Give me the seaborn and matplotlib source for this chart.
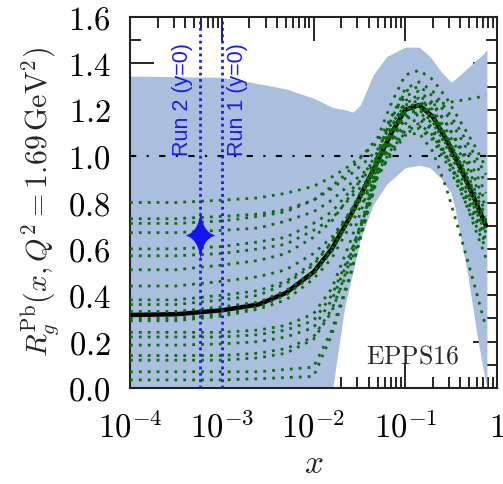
import numpy as np
import pandas as pd
import seaborn as sns
import matplotlib.pyplot as plt
from matplotlib.path import Path
from matplotlib.ticker import MultipleLocator, LogLocator, FuncFormatter, NullFormatter

# log10(x) grid shared by the error-set curves
logx = [-4, -3.5, -3, -2.6, -2.3, -2.0, -1.8, -1.6, -1.45, -1.3,
        -1.15, -1.0, -0.85, -0.7, -0.55, -0.4, -0.25, -0.12]

central = [0.315, 0.318, 0.335, 0.36, 0.41, 0.50, 0.60, 0.74, 0.86, 0.98,
           1.10, 1.20, 1.22, 1.17, 1.07, 0.95, 0.82, 0.70]

# error sets
set01 = [0.80, 0.80, 0.81, 0.82, 0.84, 0.87, 0.91, 0.96, 1.01, 1.06, 1.17, 1.26, 1.28, 1.23, 1.14, 1.03, 0.91, 0.80]
set02 = [0.73, 0.73, 0.74, 0.75, 0.77, 0.81, 0.86, 0.92, 0.97, 1.03, 1.14, 1.22, 1.24, 1.19, 1.09, 0.97, 0.84, 0.72]
set03 = [0.71, 0.71, 0.72, 0.74, 0.76, 0.81, 0.87, 0.94, 1.01, 1.08, 1.23, 1.35, 1.37, 1.33, 1.25, 1.15, 1.05, 0.95]
set04 = [0.67, 0.67, 0.68, 0.69, 0.72, 0.76, 0.81, 0.88, 0.93, 1.00, 1.10, 1.18, 1.20, 1.15, 1.04, 0.92, 0.78, 0.66]
set05 = [0.60, 0.60, 0.61, 0.63, 0.65, 0.71, 0.76, 0.85, 0.91, 0.99, 1.10, 1.20, 1.22, 1.22, 1.23, 1.24, 1.25, 1.26]
set06 = [0.57, 0.57, 0.58, 0.60, 0.62, 0.68, 0.73, 0.82, 0.88, 0.96, 1.06, 1.14, 1.16, 1.11, 1.00, 0.88, 0.74, 0.62]
set07 = [0.51, 0.51, 0.53, 0.55, 0.58, 0.65, 0.72, 0.83, 0.92, 1.02, 1.16, 1.28, 1.30, 1.26, 1.18, 1.08, 0.98, 0.88]
set08 = [0.44, 0.44, 0.46, 0.48, 0.51, 0.58, 0.65, 0.76, 0.85, 0.95, 1.07, 1.16, 1.18, 1.12, 1.00, 0.86, 0.70, 0.56]
set09 = [0.38, 0.38, 0.40, 0.42, 0.46, 0.54, 0.63, 0.76, 0.86, 0.98, 1.10, 1.20, 1.22, 1.17, 1.08, 0.97, 0.85, 0.74]
set10 = [0.36, 0.36, 0.38, 0.40, 0.45, 0.53, 0.63, 0.76, 0.87, 1.00, 1.13, 1.23, 1.25, 1.20, 1.11, 1.01, 0.89, 0.78]
set11 = [0.33, 0.33, 0.35, 0.37, 0.42, 0.50, 0.60, 0.73, 0.84, 0.97, 1.09, 1.18, 1.20, 1.15, 1.05, 0.93, 0.80, 0.68]
set12 = [0.30, 0.30, 0.32, 0.35, 0.40, 0.49, 0.59, 0.73, 0.85, 0.99, 1.11, 1.21, 1.23, 1.18, 1.08, 0.96, 0.84, 0.72]
set13 = [0.29, 0.29, 0.31, 0.34, 0.38, 0.47, 0.56, 0.70, 0.81, 0.94, 1.04, 1.12, 1.14, 1.09, 0.99, 0.88, 0.76, 0.64]
set14 = [0.24, 0.24, 0.24, 0.25, 0.27, 0.32, 0.43, 0.63, 0.80, 1.01, 1.17, 1.29, 1.32, 1.28, 1.20, 1.11, 1.01, 0.92]
set15 = [0.22, 0.22, 0.22, 0.23, 0.25, 0.29, 0.40, 0.58, 0.74, 0.93, 1.03, 1.10, 1.12, 1.07, 0.97, 0.85, 0.72, 0.60]
set16 = [0.185, 0.185, 0.19, 0.20, 0.22, 0.26, 0.38, 0.57, 0.75, 0.96, 1.08, 1.17, 1.19, 1.14, 1.05, 0.94, 0.81, 0.70]
set17 = [0.14, 0.14, 0.14, 0.15, 0.17, 0.22, 0.34, 0.53, 0.71, 0.92, 1.01, 1.09, 1.10, 1.02, 0.86, 0.66, 0.45, 0.26]
set18 = [0.12, 0.12, 0.12, 0.13, 0.15, 0.21, 0.33, 0.55, 0.74, 0.97, 1.12, 1.24, 1.26, 1.22, 1.14, 1.04, 0.94, 0.84]
set19 = [0.07, 0.07, 0.07, 0.07, 0.08, 0.09, 0.25, 0.49, 0.70, 0.91, 1.02, 1.11, 1.13, 1.08, 1.00, 0.89, 0.78, 0.67]
set20 = [0.035, 0.035, 0.035, 0.04, 0.045, 0.05, 0.23, 0.48, 0.71, 0.93, 1.07, 1.19, 1.21, 1.17, 1.08, 0.98, 0.86, 0.76]

error_sets = [set01, set02, set03, set04, set05, set06, set07, set08, set09, set10,
              set11, set12, set13, set14, set15, set16, set17, set18, set19, set20]

# uncertainty band
band_logx = [-4, -3, -2.7, -2.3, -2.0, -1.79, -1.66, -1.57, -1.49, -1.35, -1.2,
             -1.0, -0.85, -0.73, -0.6, -0.5, -0.46, -0.32, -0.21, -0.15, -0.11]
band_hi = [1.345, 1.34, 1.32, 1.29, 1.25, 1.21, 1.20, 1.19, 1.22, 1.35, 1.43,
           1.47, 1.47, 1.43, 1.36, 1.32, 1.33, 1.38, 1.42, 1.44, 1.46]
band_lo = [0, 0, 0, 0, 0, 0, 0.35, 0.50, 0.64, 0.79, 0.88,
           0.95, 0.96, 0.95, 0.90, 0.84, 0.78, 0.49, 0.21, 0.08, 0.0]

run_x = [1.0e-3, 5.8e-4]
run_labels = ["Run 1 (y=0)", "Run 2 (y=0)"]
star_x = [5.8e-4]
star_y = [0.66]

sns.set_style("ticks")
plt.rcParams["mathtext.fontset"] = "cm"
plt.rcParams["font.family"] = ["DejaVu Serif"]

fig = plt.figure(figsize=(5.03, 4.84), dpi=100)
ax = fig.add_axes([130 / 503, 1 - 388 / 484, 367 / 503, 371 / 484])

bx = 10 ** np.array(band_logx)
ax.fill_between(bx, band_lo, band_hi, color="#aabfdd", lw=0, zorder=1)

ax.axhline(1.0, color="black", lw=1.5, ls=(0, (3, 5, 1, 5)), zorder=2)

xs = 10 ** np.array(logx)
# central fit sits underneath the dotted error sets
sns.lineplot(x=xs, y=central, color="black", lw=3.2, ax=ax, zorder=2.5)

rows = []
for i, s in enumerate(error_sets):
    for xv, yv in zip(xs, s):
        rows.append({"x": xv, "R": yv, "set": i})
df = pd.DataFrame(rows)
sns.lineplot(data=df, x="x", y="R", units="set", estimator=None, color="#0d6a0d",
             lw=2.0, ls=(0, (1, 2.2)), ax=ax, zorder=3, legend=False)

for rx, lab in zip(run_x, run_labels):
    ax.axvline(rx, color="#1a1aee", lw=2.0, ls=(0, (1, 1.3)), zorder=5)
    off, ha = (4, "left") if lab.startswith("Run 1") else (-5, "right")
    ax.annotate(lab, xy=(rx, 1.0), xytext=(off, 0), textcoords="offset points",
                rotation=90, ha=ha, va="bottom", color="#1a1aee",
                fontsize=15.5, family="Liberation Sans", zorder=6)

star = Path([(0, 1.6), (0.13, 0.22), (1, 0), (0.13, -0.22), (0, -1.6),
             (-0.13, -0.22), (-1, 0), (-0.13, 0.22), (0, 1.6), (0, 1.6)],
            [Path.MOVETO, Path.CURVE3, Path.CURVE3, Path.CURVE3, Path.CURVE3,
             Path.CURVE3, Path.CURVE3, Path.CURVE3, Path.CURVE3, Path.CLOSEPOLY])
ax.plot(star_x, star_y, ls="none", marker=star, markersize=34.5,
        color="#1414f0", mec="none", zorder=7)

ax.text(0.77, 0.086, r"$\mathrm{EPPS16}$", transform=ax.transAxes,
        ha="center", va="center", fontsize=18.5, zorder=8)

ax.set_xscale("log")
ax.set_xlim(1e-4, 1)
ax.set_ylim(0, 1.6)
ax.yaxis.set_major_locator(MultipleLocator(0.2))
ax.yaxis.set_minor_locator(MultipleLocator(0.1))
ax.yaxis.set_major_formatter(FuncFormatter(lambda v, p: r"$%.1f$" % v))
ax.xaxis.set_major_locator(LogLocator(base=10, numticks=10))
ax.xaxis.set_minor_locator(LogLocator(base=10, subs=np.arange(2, 10), numticks=20))
ax.xaxis.set_minor_formatter(NullFormatter())
ax.xaxis.set_major_formatter(FuncFormatter(
    lambda v, p: r"$1$" if v >= 0.99 else r"$10^{%d}$" % round(np.log10(v))))

ax.tick_params(which="both", direction="in", top=True, right=True, width=1.2,
               labelsize=23.5, colors="black")
ax.tick_params(which="major", length=17)
ax.tick_params(which="minor", length=8)
ax.tick_params(axis="y", which="major", pad=14)
ax.tick_params(axis="x", which="major", pad=17.5)
for sp in ax.spines.values():
    sp.set_linewidth(1.5)
    sp.set_color("#222222")

ax.set_xlabel(r"$x$", fontsize=24, labelpad=2)
ax.set_ylabel(r"$R_g^{\mathrm{Pb}}(x, Q^2 = 1.69\,\mathrm{GeV}^2)$", fontsize=21.5, labelpad=4)

fig.savefig("out.png", dpi=100)
